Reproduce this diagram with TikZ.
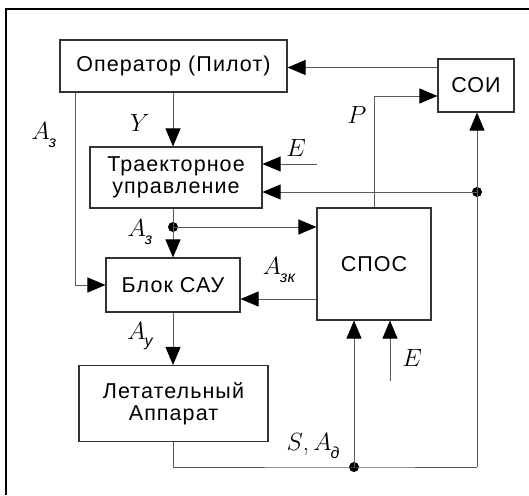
\documentclass[tikz,border=0pt]{standalone}
\usepackage{fontspec}
\newfontfamily\boxfont[LetterSpace=5]{Liberation Sans}
\newfontfamily\subfont{Liberation Sans}
\usetikzlibrary{arrows.meta}
\newcommand{\lab}[2]{$A$\kern-1pt\raisebox{-0.3em}{\subfont\itshape\fontsize{16}{16}\selectfont #2}}
\tikzset{
  blk/.style={draw=black!80, line width=1.1pt, rectangle, inner sep=0pt, font=\boxfont\fontsize{21.5}{25}\selectfont, align=center},
  conn/.style={draw=black!65, line width=0.9pt},
  arr/.style={conn, -{Triangle[length=18pt,width=15pt,black]}},
  dotn/.style={circle, fill=black, inner sep=0pt, minimum size=10pt},
  lbl/.style={font=\fontsize{25}{25}\selectfont, inner sep=0pt}
}
\begin{document}
\begin{tikzpicture}[x=1pt,y=-1pt]
\useasboundingbox (0,0) rectangle (529,495);
\fill[white] (0,0) rectangle (529,495);
\draw[black, line width=1.3pt] (529,9) -- (6,9) -- (6,495);

\node[blk, minimum width=227pt, minimum height=52pt] (op) at (173.5,66) {Оператор (Пилот)};
\node[blk, minimum width=76pt, minimum height=53pt] (soi) at (476,85.5) {СОИ};
\node[blk, minimum width=172pt, minimum height=61pt] (traj) at (176,177.5) {Траекторное\\[-3pt]управление};
\node[blk, minimum width=114pt, minimum height=112pt] (spos) at (374,264) {СПОС};
\node[blk, minimum width=134pt, minimum height=54pt] (blok) at (173,285) {Блок САУ};
\node[blk, minimum width=189pt, minimum height=76pt] (la) at (173.5,403.5) {Летательный\\[-3pt]Аппарат};

\coordinate (cx) at (173,0);
\coordinate (lx) at (75,0);
\coordinate (opin) at (0,67.5);
\coordinate (e1) at (317,164);
\coordinate (e2) at (390,381);
\coordinate (pc) at (374,96);
\coordinate (azk) at (0,299);
\node[dotn] (d1) at (477,192) {};
\node[dotn] (d2) at (173,227) {};
\node[dotn] (d3) at (354,467) {};
\coordinate (br) at (477,467);

\draw[arr] (soi.west |- opin) -- (op.east |- opin);
\draw[arr] (op.south -| cx) -- (traj.north -| cx);
\draw[arr] (op.south -| lx) |- (blok.west);
\draw[arr] (e1) -- (traj.east |- e1);
\draw[arr] (d1.center) -- (traj.east |- d1);
\draw[arr] (spos.north) -- (pc) -- (soi.west |- pc);
\draw[conn] (traj.south -| cx) -- (d2.center);
\draw[arr] (d2.center) -- (blok.north -| cx);
\draw[arr] (d2.center) -- (spos.west |- d2);
\draw[arr] (spos.west |- azk) -- (blok.east |- azk);
\draw[arr] (blok.south -| cx) -- (la.north -| cx);
\draw[conn] (la.south -| cx) |- (d3.center) -- (br);
\draw[arr] (br) -- (soi.south -| br);
\draw[arr] (d3.center) -- (spos.south -| d3);
\draw[arr] (e2) -- (spos.south -| e2);

\node[lbl] (l1) at (44,135) {\lab{A}{з}};
\node[lbl] (l2) at (140,123) {$Y$};
\node[lbl] (l3) at (296,148) {$E$};
\node[lbl] (l4) at (357,115) {$P$};
\node[lbl] (l5) at (140,232) {\lab{A}{з}};
\node[lbl] (l6) at (279,270) {\lab{A}{зк}};
\node[lbl] (l7) at (140,336) {\lab{A}{у}};
\node[lbl] (l8) at (412,358) {$E$};
\node[lbl] (l9) at (313,446) {$S$,\,\lab{A}{д}};
\end{tikzpicture}
\end{document}
